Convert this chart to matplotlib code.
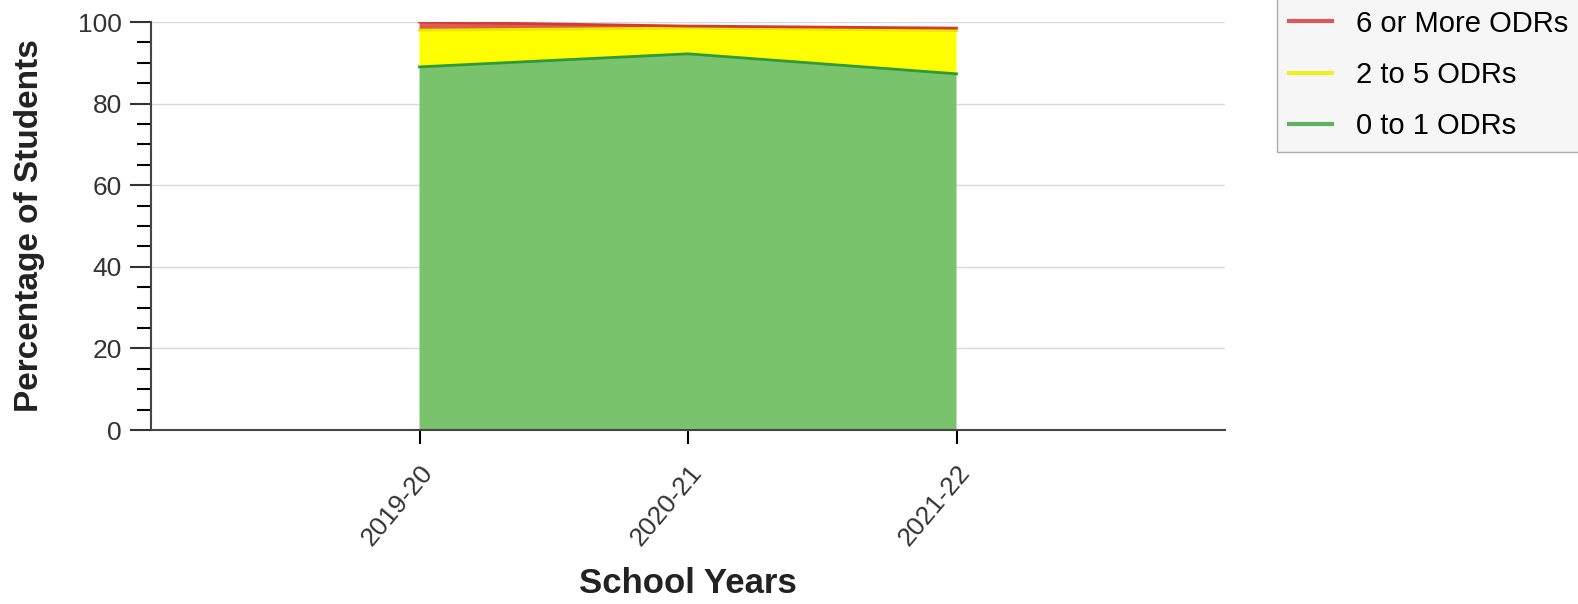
import matplotlib.pyplot as plt
from matplotlib.lines import Line2D
from matplotlib.ticker import MultipleLocator

plt.rcParams['font.family'] = ['Liberation Sans', 'DejaVu Sans']

years = ['2019-20', '2020-21', '2021-22']
odr_0_1 = [89.0, 92.2, 87.3]
odr_2_5 = [9.0, 6.3, 10.6]
odr_6_more = [2.0, 0.5, 0.6]

series_names = ['0 to 1 ODRs', '2 to 5 ODRs', '6 or More ODRs']
fill_colors = ['#79c36d', '#ffff00', '#e35a4f']
line_colors = ['#2f9a3a', '#e8e800', '#d23a32']

fig = plt.figure(figsize=(15.78, 6.04), dpi=100)
ax = fig.add_axes([151/1578, 1-430/604, 1074/1578, 408/604])

x = list(range(len(years)))
ax.stackplot(x, odr_0_1, odr_2_5, odr_6_more, colors=fill_colors, linewidth=0, zorder=2)

# edge lines on top of each band
bottom = [0]*len(x)
for vals, lc in zip([odr_0_1, odr_2_5, odr_6_more], line_colors):
    top = [b + v for b, v in zip(bottom, vals)]
    ax.plot(x, top, color=lc, lw=2, zorder=3)
    bottom = top

ax.set_xlim(-1, 3)
ax.set_ylim(0, 100)
ax.set_xticks(x)
ax.set_xticklabels(years, rotation=50, ha='right', rotation_mode='anchor', fontsize=19, color='#333333')
ax.yaxis.set_major_locator(MultipleLocator(20))
ax.yaxis.set_minor_locator(MultipleLocator(5))
ax.tick_params(axis='y', labelsize=19, colors='#333333', length=15, width=1.5, pad=6)
ax.tick_params(axis='y', which='minor', length=10, width=1.5)
ax.tick_params(axis='x', length=10, width=1.5, pad=12)
ax.grid(axis='y', color='#d9d9d9', lw=1, zorder=0)
ax.set_axisbelow(True)
for s in ['top', 'right']:
    ax.spines[s].set_visible(False)
for s in ['left', 'bottom']:
    ax.spines[s].set_color('#444444')
    ax.spines[s].set_linewidth(1.5)

ax.set_ylabel('Percentage of Students', fontsize=24, fontweight='bold', color='#222222', labelpad=24)
ax.set_xlabel('School Years', fontsize=25, fontweight='bold', color='#222222', labelpad=12)

handles = [Line2D([], [], color=c, lw=3) for c in ['#d9595a', '#f0f020', '#5fb35f']]
leg = fig.legend(handles, series_names[::-1], loc='lower left',
                 bbox_to_anchor=(1277/1578, 1-152/604), fontsize=21, borderaxespad=0,
                 frameon=True, fancybox=False, facecolor='#f4f4f4', edgecolor='#999999',
                 handlelength=1.5, labelspacing=0.8, borderpad=0.4, handletextpad=0.8)

fig.savefig('out.png', dpi=100)
